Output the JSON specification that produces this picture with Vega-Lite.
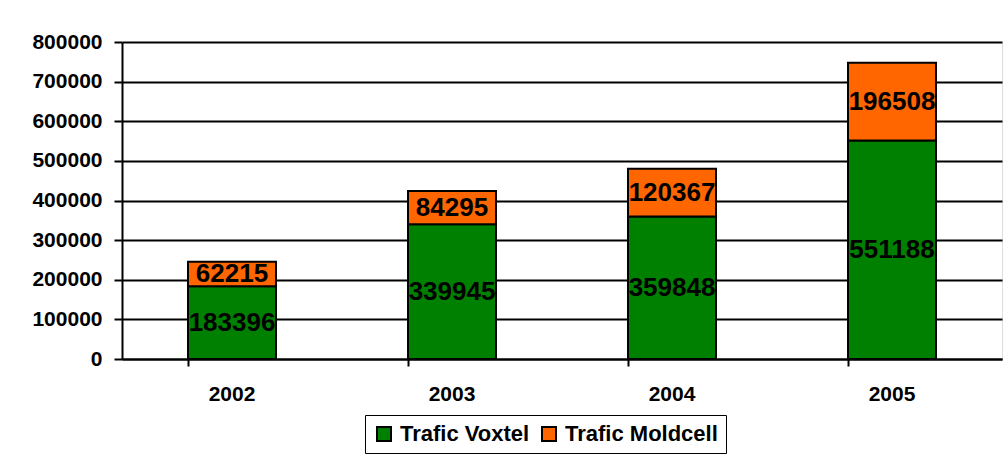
{
  "$schema": "https://vega.github.io/schema/vega-lite/v6.json",
  "width": 880,
  "height": 317,
  "padding": {"left": 31, "top": 31, "right": 5, "bottom": 5},
  "background": "white",
  "config": {
    "axisY": {
      "title": null,
      "format": "d",
      "labelOverlap": false,
      "grid": true,
      "gridColor": "black",
      "gridWidth": 2,
      "gridOpacity": 1,
      "domainColor": "black",
      "domainWidth": 2,
      "tickColor": "black",
      "tickWidth": 2,
      "tickSize": 8,
      "labelPadding": 12,
      "labelFont": "Liberation Sans",
      "labelFontWeight": "bold",
      "labelFontSize": 21,
      "labelColor": "black"
    }
  },
  "data": {
    "values": [
      {"year": "2002", "series": "Trafic Voxtel", "value": 183396},
      {"year": "2002", "series": "Trafic Moldcell", "value": 62215},
      {"year": "2003", "series": "Trafic Voxtel", "value": 339945},
      {"year": "2003", "series": "Trafic Moldcell", "value": 84295},
      {"year": "2004", "series": "Trafic Voxtel", "value": 359848},
      {"year": "2004", "series": "Trafic Moldcell", "value": 120367},
      {"year": "2005", "series": "Trafic Voxtel", "value": 551188},
      {"year": "2005", "series": "Trafic Moldcell", "value": 196508}
    ]
  },
  "encoding": {
    "x": {
      "field": "year",
      "type": "nominal",
      "scale": {"paddingInner": 0.6, "paddingOuter": 0.3},
      "axis": {
        "title": null,
        "labelAngle": 0,
        "labelFont": "Liberation Sans",
        "labelFontWeight": "bold",
        "labelFontSize": 21,
        "labelColor": "black",
        "labelPadding": 17,
        "bandPosition": 0,
        "ticks": true,
        "tickSize": 7,
        "tickColor": "black",
        "tickWidth": 2,
        "domainColor": "black",
        "domainWidth": 2
      }
    }
  },
  "layer": [
    {
      "mark": {"type": "bar", "stroke": "black", "strokeWidth": 2},
      "encoding": {
        "y": {
          "field": "value",
          "type": "quantitative",
          "stack": "zero",
          "scale": {"domain": [0, 800000], "nice": false},
          "axis": {"values": [0, 100000, 200000, 300000, 400000, 500000, 600000, 700000, 800000]}
        },
        "color": {
          "field": "series",
          "type": "nominal",
          "sort": ["Trafic Voxtel", "Trafic Moldcell"],
          "scale": {"domain": ["Trafic Voxtel", "Trafic Moldcell"], "range": ["#008000", "#FF6600"]},
          "legend": {
            "title": null,
            "orient": "none",
            "legendX": 243,
            "legendY": 373,
            "direction": "horizontal",
            "strokeColor": "black",
            "padding": 8,
            "labelFont": "Liberation Sans",
            "labelFontWeight": "bold",
            "labelFontSize": 22,
            "labelColor": "black",
            "labelOffset": 5,
            "symbolType": "square",
            "symbolSize": 196,
            "symbolStrokeColor": "black",
            "symbolStrokeWidth": 2,
            "symbolOpacity": 1,
            "columnPadding": 8
          }
        },
        "order": {"field": "series", "sort": "descending"}
      }
    },
    {
      "mark": {"type": "text", "font": "Liberation Sans", "fontWeight": "bold", "fontSize": 26, "color": "black", "baseline": "middle"},
      "encoding": {
        "y": {"field": "value", "type": "quantitative", "stack": "zero", "bandPosition": 0.5,
              "axis": {"values": [0, 100000, 200000, 300000, 400000, 500000, 600000, 700000, 800000]}},
        "detail": {"field": "series"},
        "order": {"field": "series", "sort": "descending"},
        "text": {"field": "value", "type": "quantitative", "format": "d"}
      }
    }
  ]
}
